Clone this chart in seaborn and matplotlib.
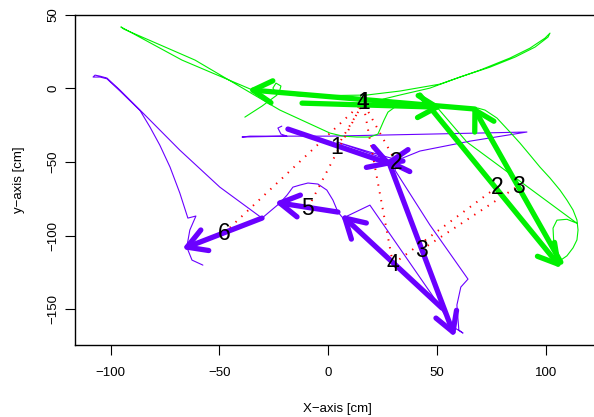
import numpy as np
import pandas as pd
import seaborn as sns
import matplotlib.pyplot as plt

# ---- thin tracked paths [cm] ----
purple_x = [-21.3, -23.1, -21.7, -19.0, -39.6, -36.0, 0.8, 46.8, 91.4, 65.2, 42.2, 32.0,
            19.2, 4.0, 32.0, 30.7, 46.8, 64.3, 61.0, 59.2, 60.1, 62.0, 58.3, 53.7, 50.0,
            19.2, 6.8, 4.5, 2.2, -0.6, -4.7, -9.3, -13.0, -16.2, -18.9, -22.2, -30.4,
            -49.8, -68.2, -86.5, -95.7, -101.7, -104.9, -107.2, -108.1, -104.9, -101.7, -95.7,
            -86.5, -81.9, -77.4, -72.7, -68.2, -64.5, -60.8, -63.6, -65.0, -62.6, -57.6]
purple_y = [-25.6, -26.9, -31.0, -32.4, -33.0, -32.4, -32.4, -31.0, -29.6, -35.8, -42.5, -48.6,
            -43.2, -36.4, -50.7, -55.4, -92.7, -129.4, -134.8, -147.0, -164.0, -166.0, -162.6, -153.8, -144.9,
            -79.2, -88.0, -83.9, -75.8, -69.0, -64.9, -64.2, -65.6, -67.0, -72.4, -77.8, -88.0,
            -67.0, -41.9, -14.7, -1.2, 7.0, 8.3, 9.0, 7.7, 7.7, 6.5, -1.8,
            -15.0, -26.3, -38.5, -53.4, -71.0, -88.0, -86.6, -96.1, -107.7, -116.5, -119.9]

green_x = [-38.3, -30.4, -23.5, -25.4, -24.0, -21.7, -22.6, -13.0, 17.8, 33.0, 51.4, 69.8,
           83.6, 92.8, 99.7, 102.0, 101.1, 95.1, 85.9, 74.4, 60.6, 46.8, 33.0, 25.2, 50.0,
           63.8, 114.4, 109.8, 105.2, 103.4, 103.8, 105.7, 109.8, 112.6, 114.4, 114.9, 114.4,
           112.6, 109.8, 106.6, 102.0, 97.4, 92.8, 88.2, 83.6, 77.6, 72.1, 68.9,
           42.2, -34.6, -67.2, -95.3, -93.9, -61.2, -22.2, 0.8, 6.8, 13.2, 19.2, 22.9,
           25.7, 27.5, 30.7, 34.4]
green_y = [-19.5, -12.0, -4.5, 0.2, 3.6, 1.6, -3.2, -5.2, -4.5, -1.8, 2.9, 12.4,
           20.6, 27.3, 34.1, 37.5, 34.8, 28.0, 21.2, 14.4, 7.7, 0.2, -4.5, -7.3, -12.7,
           -36.4, -91.5, -88.8, -89.4, -94.8, -106.3, -117.8, -113.6, -108.2, -102.8, -96.1, -89.3,
           -82.5, -75.8, -69.0, -60.8, -53.4, -45.2, -37.1, -29.6, -20.1, -14.7, -13.4,
           -10.7, -1.2, 19.2, 41.7, 40.2, 19.2, -14.7, -30.3, -32.4, -33.0, -33.0, -31.0,
           -21.5, -16.1, -12.7, -11.3]

# ---- displacement arrows (start -> end) ----
purple_x0 = [-18.5, 34.4, 28.4, 52.3, 4.5, -30.4]
purple_y0 = [-27.6, -49.3, -52.0, -149.0, -83.9, -88.0]
purple_x1 = [27.5, 28.4, 57.4, 7.7, -22.2, -64.9]
purple_y1 = [-50.7, -50.0, -165.3, -88.0, -77.8, -107.7]

green_x0 = [-12.0, 42.2, 107.0, 67.5]
green_y0 = [-10.0, -4.5, -117.9, -14.0]
green_x1 = [50.0, 105.7, 67.5, -34.6]
green_y1 = [-12.7, -119.2, -14.7, -1.2]

# ---- step numbers ----
purple_lab_x = [4.0, 31.2, 42.7, 29.8, -9.3, -47.9]
purple_lab_y = [-39.8, -50.0, -109.7, -119.2, -81.2, -98.2]
green_lab_x = [16.5, 77.6, 87.3, 16.0]
green_lab_y = [-9.3, -67.0, -66.3, -9.3]

# red dotted links: purple step -> green step
link_purple = [1, 2, 3, 4, 4, 5, 6]
link_green = [1, 4, 3, 2, 4, 4, 4]

PURPLE = "#6a00ff"
GREEN = "#00f000"

sns.set_style("ticks")
plt.rcParams['font.family'] = ['Liberation Sans', 'DejaVu Sans']
plt.rcParams['text.color'] = 'black'
plt.rcParams['axes.labelcolor'] = 'black'
plt.rcParams['xtick.color'] = 'black'
plt.rcParams['ytick.color'] = 'black'

fig = plt.figure(figsize=(5.94, 4.17), dpi=100)
ax = fig.add_axes([75 / 594, 1 - 345 / 417, 525 / 594, 330.3 / 417])
ax.set_xlim(-116.4, 125.0)
ax.set_ylim(-174.1, 50.0)

paths = pd.concat([
    pd.DataFrame({'x': purple_x, 'y': purple_y, 'who': 'purple'}),
    pd.DataFrame({'x': green_x, 'y': green_y, 'who': 'green'}),
])
for who, col in [('purple', PURPLE), ('green', GREEN)]:
    sns.lineplot(data=paths[paths['who'] == who], x='x', y='y', sort=False, estimator=None,
                 color=col, lw=0.8, ax=ax)

# red dotted links between step labels
for p, g in zip(link_purple, link_green):
    ax.plot([purple_lab_x[p - 1], green_lab_x[g - 1]], [purple_lab_y[p - 1], green_lab_y[g - 1]],
            color='red', lw=1.4, linestyle=(0, (0.7, 3.4)), zorder=2)


def draw_arrow(x0, y0, x1, y1, color):
    ax.plot([x0, x1], [y0, y1], color=color, lw=3.8, solid_capstyle='round', zorder=3)
    p0 = ax.transData.transform((x0, y0))
    p1 = ax.transData.transform((x1, y1))
    d = (p0 - p1) / np.hypot(*(p0 - p1))
    barbs = []
    for a in (np.pi / 6, -np.pi / 6):
        r = np.array([d[0] * np.cos(a) - d[1] * np.sin(a), d[0] * np.sin(a) + d[1] * np.cos(a)])
        barbs.append(p1 + 22 * r)
    pts = ax.transData.inverted().transform(np.array([barbs[0], p1, barbs[1]]))
    ax.plot(pts[:, 0], pts[:, 1], color=color, lw=3.8, solid_capstyle='round',
            solid_joinstyle='round', zorder=3)


for a in zip(purple_x0, purple_y0, purple_x1, purple_y1):
    draw_arrow(*a, PURPLE)
for a in zip(green_x0, green_y0, green_x1, green_y1):
    draw_arrow(*a, GREEN)

for i, (x, y) in enumerate(zip(purple_lab_x, purple_lab_y)):
    ax.text(x, y, str(i + 1), ha='center', va='center', fontsize=16.5, zorder=5)
for i, (x, y) in enumerate(zip(green_lab_x, green_lab_y)):
    ax.text(x, y, str(i + 1), ha='center', va='center', fontsize=16.5, zorder=5)

ax.set_xticks([-100, -50, 0, 50, 100])
ax.set_yticks([50, 0, -50, -100, -150])
ax.set_xticklabels(['\u2212100', '\u221250', '0', '50', '100'])
ax.set_yticklabels(['50', '0', '\u221250', '\u2212100', '\u2212150'], rotation=90, va='center')
ax.tick_params(axis='both', length=7, width=0.8, labelsize=9.5)
ax.tick_params(axis='x', pad=9)
ax.tick_params(axis='y', pad=4.5)
for s in ax.spines.values():
    s.set_color('black')
    s.set_linewidth(1.0)
ax.set_xlabel('X\u2212axis [cm]', fontsize=9.5, labelpad=17)
ax.set_ylabel('y\u2212axis [cm]', fontsize=9.5, labelpad=16)

fig.savefig('out.png', dpi=100)
